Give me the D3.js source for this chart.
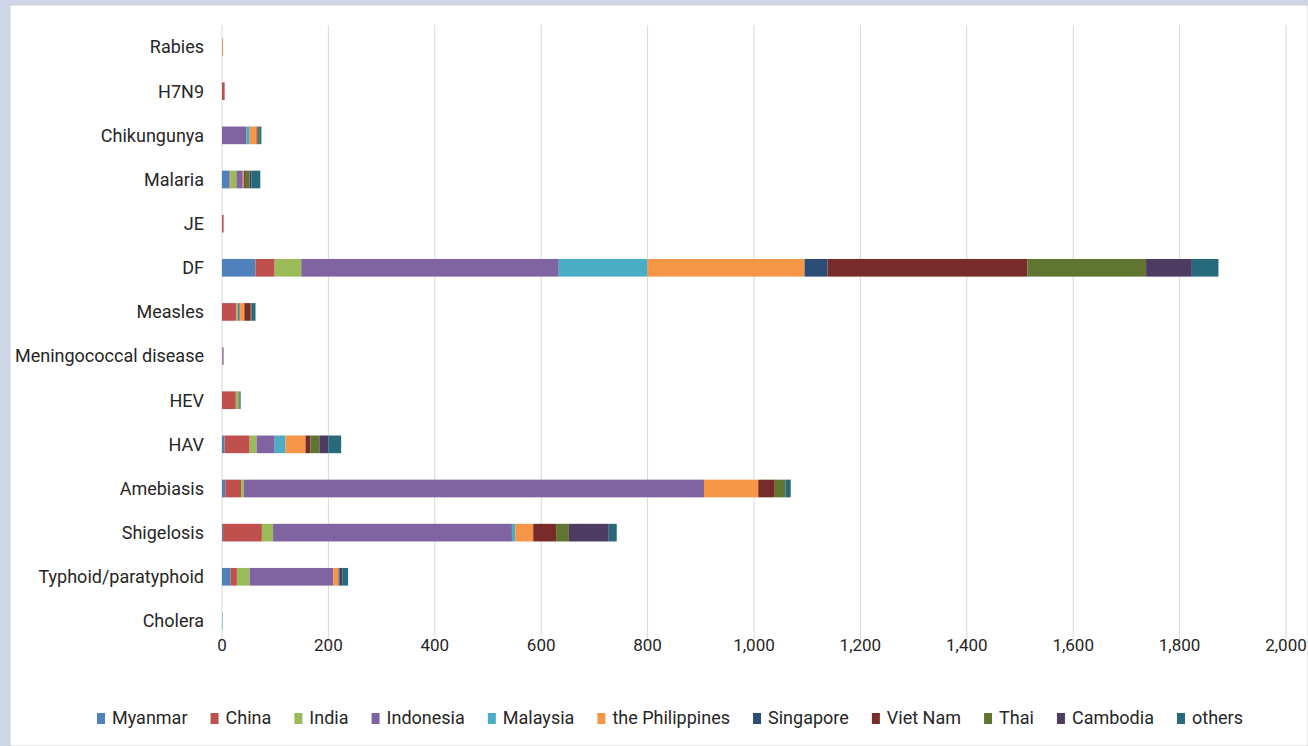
<!DOCTYPE html>
<html lang="en">
<head>
<meta charset="UTF-8">
<title>Imported infectious diseases by country</title>
<style>
body { margin: 0; background: #fff; }
text { font-family: Roboto, "Noto Sans", sans-serif; fill: #262626; }
.grid line { stroke: #d9d9d9; stroke-width: 1px; }
</style>
</head>
<body>
<script src="https://cdnjs.cloudflare.com/ajax/libs/d3/7.8.5/d3.min.js"></script>
<script>
var categories = ["Rabies", "H7N9", "Chikungunya", "Malaria", "JE", "DF", "Measles",
  "Meningococcal disease", "HEV", "HAV", "Amebiasis", "Shigelosis",
  "Typhoid/paratyphoid", "Cholera"];
var countries = ["Myanmar", "China", "India", "Indonesia", "Malaysia", "the Philippines",
  "Singapore", "Viet Nam", "Thai", "Cambodia", "others"];
var colors = ["#4f81bd", "#c0504d", "#9bbb59", "#8064a2", "#4bacc6", "#f79646",
  "#2c4d75", "#772c2a", "#5f7530", "#4d3b62", "#276a7c"];

// values per country, in the order of categories
var myanmar     = [0, 0, 0, 14, 0, 63, 0, 0, 0, 5, 6, 2, 16, 0];
var china       = [1, 5, 0, 2, 3, 36, 27, 1, 26, 47, 30, 73, 12, 0];
var india       = [0, 0, 0, 11, 0, 50, 3, 0, 5, 13, 5, 21, 24, 0];
var indonesia   = [0, 0, 46, 12, 0, 484, 2, 2, 0, 34, 865, 449, 157, 0];
var malaysia    = [0, 0, 6, 0, 0, 167, 2, 0, 0, 20, 0, 6, 0, 1];
var philippines = [1, 0, 13, 2, 0, 295, 8, 0, 0, 38, 102, 34, 10, 0];
var singapore   = [0, 0, 0, 0, 0, 43, 0, 0, 0, 0, 0, 0, 2, 0];
var vietnam     = [0, 0, 2, 2, 0, 376, 12, 0, 0, 9, 31, 43, 0, 0];
var thai        = [0, 0, 3, 9, 0, 223, 2, 0, 2, 17, 20, 24, 0, 0];
var cambodia    = [0, 0, 0, 3, 0, 86, 0, 0, 0, 17, 0, 75, 5, 0];
var others      = [0, 0, 4, 17, 0, 50, 7, 0, 2, 24, 10, 15, 11, 0];
var xTicks = [0, 200, 400, 600, 800, 1000, 1200, 1400, 1600, 1800, 2000];

var series = [myanmar, china, india, indonesia, malaysia, philippines,
  singapore, vietnam, thai, cambodia, others];
var rows = categories.map(function (c, i) {
  var r = { name: c };
  countries.forEach(function (k, j) { r[k] = series[j][i]; });
  return r;
});

var width = 1308, height = 746;
var svg = d3.select("body").append("svg")
  .attr("width", width).attr("height", height);

// slide frame
svg.append("rect").attr("width", width).attr("height", height).attr("fill", "#cfd5e9");
svg.append("rect").attr("x", 10).attr("y", 5).attr("width", width - 10).attr("height", height - 5)
  .attr("fill", "#fff").attr("stroke", "#d0d0d0").attr("stroke-width", 1);

var plotL = 222, plotR = 1286, plotT = 25, plotB = 643;
var x = d3.scaleLinear().domain([0, 2000]).range([plotL, plotR]);
var y = d3.scaleBand().domain(categories).range([plotT, plotB]).paddingInner(0.6).paddingOuter(0.3);

// gridlines
svg.append("g").attr("class", "grid")
  .selectAll("line").data(xTicks).enter().append("line")
  .attr("x1", d => x(d)).attr("x2", d => x(d))
  .attr("y1", plotT).attr("y2", plotB);

var stack = d3.stack().keys(countries)(rows);
svg.append("g").selectAll("g").data(stack).enter().append("g")
  .attr("fill", (d, i) => colors[i])
  .selectAll("rect").data(d => d).enter().append("rect")
  .attr("x", d => x(d[0]))
  .attr("width", d => x(d[1]) - x(d[0]))
  .attr("y", d => y(d.data.name))
  .attr("height", y.bandwidth());

// category labels
svg.append("g").selectAll("text").data(categories).enter().append("text")
  .attr("x", 204).attr("y", d => y(d) + y.bandwidth() / 2)
  .attr("dy", "0.35em").attr("text-anchor", "end")
  .style("font-size", "18px")
  .text(d => d);

// x tick labels
svg.append("g").selectAll("text").data(xTicks).enter().append("text")
  .attr("x", d => x(d)).attr("y", 651)
  .attr("text-anchor", "middle")
  .style("font-size", "17px")
  .text(d => d3.format(",")(d));

// legend, spread across 97..1243 like the original
var legend = svg.append("g").attr("transform", "translate(97,724)");
var items = countries.map(function (c, i) {
  var g = legend.append("g");
  g.append("rect").attr("x", 0).attr("y", -11).attr("width", 8).attr("height", 11)
    .attr("fill", colors[i]);
  var t = g.append("text").attr("x", 15).attr("y", 0).style("font-size", "18px").text(c);
  return { g: g, w: 15 + t.node().getComputedTextLength() };
});
var total = d3.sum(items, d => d.w);
var gap = (1146 - total) / (items.length - 1);
var pos = 0;
items.forEach(function (it) {
  it.g.attr("transform", "translate(" + pos + ",0)");
  pos += it.w + gap;
});
</script>
</body>
</html>
